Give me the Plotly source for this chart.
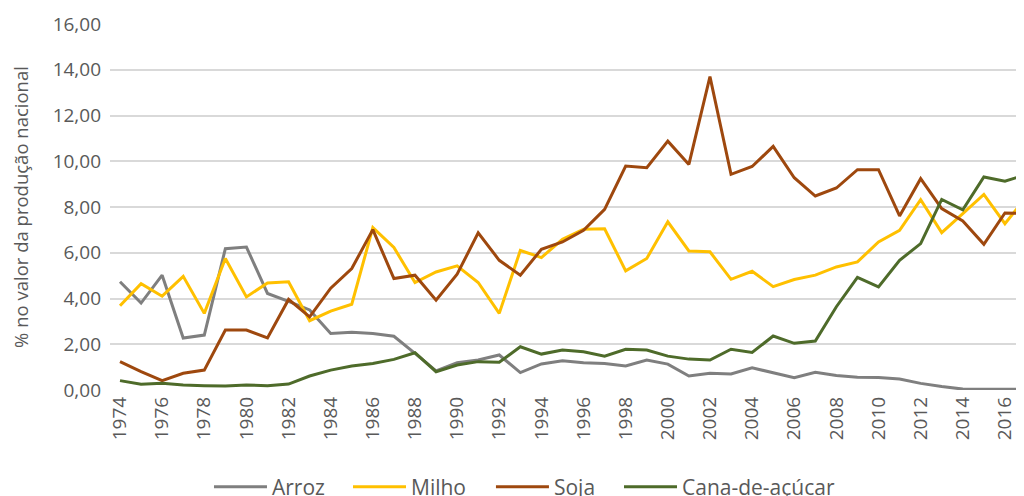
import plotly.graph_objects as go

years = list(range(1974, 2018))
arroz = [4.73, 3.80, 5.02, 2.27, 2.40, 6.18, 6.25, 4.22, 3.87, 3.50,
         2.47, 2.52, 2.47, 2.35, 1.60, 0.84, 1.19, 1.31, 1.53, 0.76,
         1.14, 1.28, 1.19, 1.16, 1.05, 1.31, 1.13, 0.61, 0.73, 0.70,
         0.97, 0.75, 0.54, 0.77, 0.63, 0.56, 0.55, 0.48, 0.29, 0.15,
         0.04, 0.03, 0.03, 0.03]
milho = [3.68, 4.65, 4.10, 4.97, 3.35, 5.75, 4.07, 4.68, 4.73, 3.03,
         3.45, 3.75, 7.10, 6.23, 4.70, 5.16, 5.43, 4.70, 3.35, 6.10,
         5.79, 6.59, 7.03, 7.05, 5.21, 5.75, 7.35, 6.08, 6.04, 4.84,
         5.19, 4.52, 4.83, 5.02, 5.38, 5.60, 6.47, 6.98, 8.32, 6.88,
         7.71, 8.55, 7.27, 8.42]
soja = [1.24, 0.80, 0.41, 0.73, 0.87, 2.62, 2.62, 2.28, 3.96, 3.20,
        4.45, 5.31, 7.01, 4.87, 5.02, 3.93, 5.06, 6.87, 5.67, 5.02,
        6.15, 6.47, 6.98, 7.90, 9.79, 9.72, 10.88, 9.86, 13.70, 9.43,
        9.77, 10.65, 9.28, 8.48, 8.83, 9.63, 9.63, 7.61, 9.24, 7.93,
        7.39, 6.37, 7.74, 7.71]
cana = [0.41, 0.25, 0.29, 0.22, 0.19, 0.17, 0.22, 0.19, 0.26, 0.61,
        0.87, 1.05, 1.16, 1.34, 1.63, 0.80, 1.09, 1.24, 1.21, 1.89,
        1.57, 1.75, 1.67, 1.48, 1.78, 1.75, 1.48, 1.35, 1.31, 1.78,
        1.64, 2.36, 2.04, 2.14, 3.64, 4.92, 4.51, 5.67, 6.40, 8.33,
        7.88, 9.31, 9.13, 9.41]

series = [("Arroz", arroz, "#7f7f7f"),
          ("Milho", milho, "#ffc000"),
          ("Soja", soja, "#9e480e"),
          ("Cana-de-açúcar", cana, "#4e6b2a")]
legend_x = [0.1083, 0.2604, 0.4168, 0.5569]

yticks = [0, 2, 4, 6, 8, 10, 12, 14, 16]
ytext = [f"{v:.2f}".replace(".", ",") for v in yticks]
xticks = list(range(1974, 2018, 2))

fig = go.Figure()
legends = {}
for i, ((name, vals, col), lx) in enumerate(zip(series, legend_x)):
    key = "legend" if i == 0 else f"legend{i+1}"
    fig.add_trace(go.Scatter(x=years, y=vals, mode="lines", name=name,
                             line=dict(color=col, width=3), legend=key))
    legends[key] = dict(orientation="h", x=lx, xanchor="left", y=-0.265,
                        yanchor="middle", font=dict(size=21, color="#595959"),
                        bgcolor="rgba(0,0,0,0)", itemwidth=53)

font = "Open Sans"
fig.update_layout(
    width=1016, height=488,
    margin=dict(l=102, r=0, t=16, b=106, autoexpand=False),
    paper_bgcolor="white", plot_bgcolor="white",
    font=dict(family=font, color="#595959", size=18),
    showlegend=True,
    xaxis=dict(range=[1973.525, 2016.905], tickmode="array", tickvals=xticks,
               ticktext=[str(t) for t in xticks], tickangle=-90,
               tickfont=dict(size=19), showgrid=False, zeroline=False,
               showline=False, ticks="", ticklabelstandoff=2),
    yaxis=dict(range=[0, 16], tickmode="array", tickvals=yticks, ticktext=ytext,
               tickfont=dict(size=19), showgrid=True, gridcolor="#d9d9d9",
               gridwidth=1.5, zeroline=False, showline=False, ticks="",
               ticklabelstandoff=8,
               title=dict(text="% no valor da produção nacional", font=dict(size=18.5),
                          standoff=21)),
    **legends,
)

fig.write_html("out.html")
